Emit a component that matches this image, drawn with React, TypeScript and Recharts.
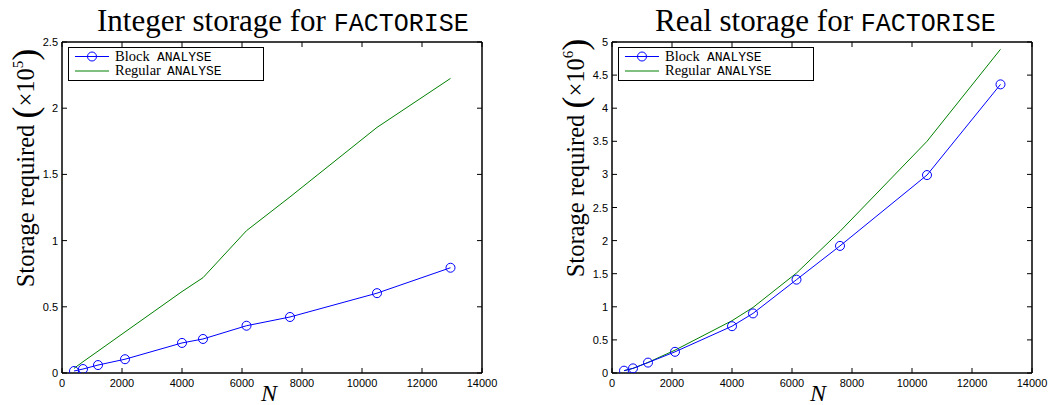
import React from 'react';
import { LineChart, Line, XAxis, YAxis, Legend } from 'recharts';

// problem sizes N (shared by both panels)
const nValues = [400, 700, 1200, 2100, 4000, 4700, 6150, 7600, 10500, 12950];

// integer storage, x10^5
const intBlock = [0.015, 0.03, 0.06, 0.104, 0.227, 0.257, 0.357, 0.423, 0.603, 0.795];
const intRegular = [0.035, 0.085, 0.165, 0.31, 0.615, 0.72, 1.075, 1.33, 1.855, 2.225];

// real storage, x10^6
const realBlock = [0.035, 0.07, 0.157, 0.32, 0.707, 0.9, 1.41, 1.92, 2.99, 4.36];
const realRegular = [0.035, 0.07, 0.16, 0.345, 0.79, 0.99, 1.51, 2.14, 3.5, 4.89];

const xTicks = [0, 2000, 4000, 6000, 8000, 10000, 12000, 14000];
const intTicks = [0, 0.5, 1, 1.5, 2, 2.5];
const realTicks = [0, 0.5, 1, 1.5, 2, 2.5, 3, 3.5, 4, 4.5, 5];

const SERIF = 'Liberation Serif, DejaVu Serif, serif';
const MONO = 'Liberation Mono, Courier New, monospace';
const SANS = 'Liberation Sans, Arial, sans-serif';
const BLUE = '#0000ff';
const GREEN = '#008000';

const TICK_LEN = 5;

const LeftTick = (props: any) => {
  const { x, y, payload } = props;
  const ax = x + 4;
  return (
    <g>
      <line x1={ax} y1={y} x2={ax + TICK_LEN} y2={y} stroke="#000" />
      <text x={x} y={y + 4} textAnchor="end" fontFamily={SANS} fontSize={11} fill="#000">
        {payload.value}
      </text>
    </g>
  );
};

const RightTick = (props: any) => {
  const { x, y } = props;
  return <line x1={x} y1={y} x2={x - TICK_LEN} y2={y} stroke="#000" />;
};

const BottomTick = (props: any) => {
  const { x, y, payload } = props;
  return (
    <g>
      <line x1={x} y1={y} x2={x} y2={y - TICK_LEN} stroke="#000" />
      <text x={x} y={y + 14} textAnchor="middle" fontFamily={SANS} fontSize={11} fill="#000">
        {payload.value}
      </text>
    </g>
  );
};

const TopTick = (props: any) => {
  const { x, y } = props;
  return <line x1={x} y1={y} x2={x} y2={y + TICK_LEN} stroke="#000" />;
};

const Title = ({ px, py, text }: { px: number; py: number; text: string }) => (
  <text x={px} y={py} fill="#000" textAnchor="start">
    <tspan fontFamily={SERIF} fontSize={31}>{text} </tspan>
    <tspan fontFamily={MONO} fontSize={25}>FACTORISE</tspan>
  </text>
);

const XLabel = ({ px, py }: { px: number; py: number }) => (
  <text x={px} y={py} textAnchor="middle" fontFamily={SERIF} fontStyle="italic" fontSize={24} fill="#000">
    N
  </text>
);

const YLabel = ({ px, py, exp }: { px: number; py: number; exp: string }) => (
  <text transform={`translate(${px}, ${py}) rotate(-90)`} x={0} y={0} textAnchor="middle" fontFamily={SERIF} fontSize={24.5} fill="#000">
    Storage required{' '}
    <tspan fontSize={36} fontWeight={300} dy={3}>(</tspan>
    <tspan dy={-3}>×10</tspan>
    <tspan fontSize={15} dy={-11}>{exp}</tspan>
    <tspan fontSize={36} fontWeight={300} dy={14}>)</tspan>
  </text>
);

const LegendBox = () => (
  <div
    style={{
      width: 196,
      height: 34,
      boxSizing: 'border-box',
      border: '1.5px solid #000',
      background: '#fff',
      position: 'relative',
    }}
  >
    <svg width={196} height={34} style={{ position: 'absolute', left: -1.5, top: -1.5 }}>
      <line x1={7} y1={9.5} x2={41} y2={9.5} stroke={BLUE} />
      <circle cx={24} cy={9.5} r={4.5} fill="none" stroke={BLUE} />
      <line x1={7} y1={24} x2={41} y2={24} stroke={GREEN} />
      <text x={47} y={13.5} fill="#000" fontFamily={SERIF} fontSize={14.5}>
        Block
      </text>
      <text x={89} y={13.5} fill="#000" fontFamily={MONO} fontSize={13}>
        ANALYSE
      </text>
      <text x={47} y={28} fill="#000" fontFamily={SERIF} fontSize={14.5}>
        Regular
      </text>
      <text x={99} y={28} fill="#000" fontFamily={MONO} fontSize={13}>
        ANALYSE
      </text>
    </svg>
  </div>
);

type PanelProps = {
  left: number;
  width: number;
  marginLeft: number;
  marginRight: number;
  block: number[];
  regular: number[];
  yMax: number;
  yTicks: number[];
  title: string;
  titleX: number;
  exp: string;
  yLabelX: number;
  yLabelY: number;
  xLabelX: number;
  legendLeft: number;
};

function Panel(p: PanelProps) {
  const data = nValues.map((n, i) => ({ n, block: p.block[i], regular: p.regular[i] }));
  const axisLine = { stroke: '#000', strokeWidth: 1.5 };
  return (
    <div style={{ position: 'absolute', left: p.left, top: 0 }}>
      <LineChart
        width={p.width}
        height={405}
        data={data}
        margin={{ top: 41, right: p.marginRight - 1, bottom: 31, left: p.marginLeft - 1 }}
      >
        <XAxis
          dataKey="n"
          type="number"
          domain={[0, 14000]}
          ticks={xTicks}
          height={1}
          tickSize={0}
          tickMargin={0}
          tickLine={false}
          axisLine={axisLine}
          tick={<BottomTick />}
          label={<XLabel px={p.xLabelX} py={401} />}
          allowDataOverflow
        />
        <XAxis
          xAxisId="top"
          orientation="top"
          dataKey="n"
          type="number"
          domain={[0, 14000]}
          ticks={xTicks}
          height={1}
          tickSize={0}
          tickMargin={0}
          tickLine={false}
          axisLine={axisLine}
          tick={<TopTick />}
          label={<Title px={p.titleX} py={31} text={p.title} />}
          allowDataOverflow
        />
        <YAxis
          type="number"
          domain={[0, p.yMax]}
          ticks={p.yTicks}
          width={1}
          tickSize={0}
          tickMargin={4}
          tickLine={false}
          axisLine={axisLine}
          tick={<LeftTick />}
          label={<YLabel px={p.yLabelX} py={p.yLabelY} exp={p.exp} />}
          allowDataOverflow
        />
        <YAxis
          yAxisId="right"
          orientation="right"
          type="number"
          domain={[0, p.yMax]}
          ticks={p.yTicks}
          width={1}
          tickSize={0}
          tickMargin={0}
          tickLine={false}
          axisLine={axisLine}
          tick={<RightTick />}
          allowDataOverflow
        />
        <Legend
          layout="horizontal"
          verticalAlign="middle"
          align="center"
          content={() => <LegendBox />}
          wrapperStyle={{ position: 'absolute', left: p.legendLeft, top: 47, width: 196, height: 34 }}
        />
        <Line
          dataKey="regular"
          type="linear"
          stroke={GREEN}
          strokeWidth={1}
          dot={false}
          isAnimationActive={false}
        />
        <Line
          dataKey="block"
          type="linear"
          stroke={BLUE}
          strokeWidth={1}
          dot={{ r: 4.5, fill: 'none', stroke: BLUE, strokeWidth: 1 }}
          isAnimationActive={false}
        />
      </LineChart>
    </div>
  );
}

export default function App() {
  return (
    <div style={{ position: 'absolute', left: 0, top: 0, width: 1055, height: 405, background: '#fff' }}>
      <Panel
        left={0}
        width={530}
        marginLeft={62}
        marginRight={48}
        block={intBlock}
        regular={intRegular}
        yMax={2.5}
        yTicks={intTicks}
        title="Integer storage for"
        titleX={97}
        exp="5"
        yLabelX={34}
        yLabelY={168}
        xLabelX={269}
        legendLeft={68}
      />
      <Panel
        left={540}
        width={515}
        marginLeft={72}
        marginRight={23}
        block={realBlock}
        regular={realRegular}
        yMax={5}
        yTicks={realTicks}
        title="Real storage for"
        titleX={115}
        exp="6"
        yLabelX={44}
        yLabelY={158}
        xLabelX={278}
        legendLeft={78}
      />
    </div>
  );
}
